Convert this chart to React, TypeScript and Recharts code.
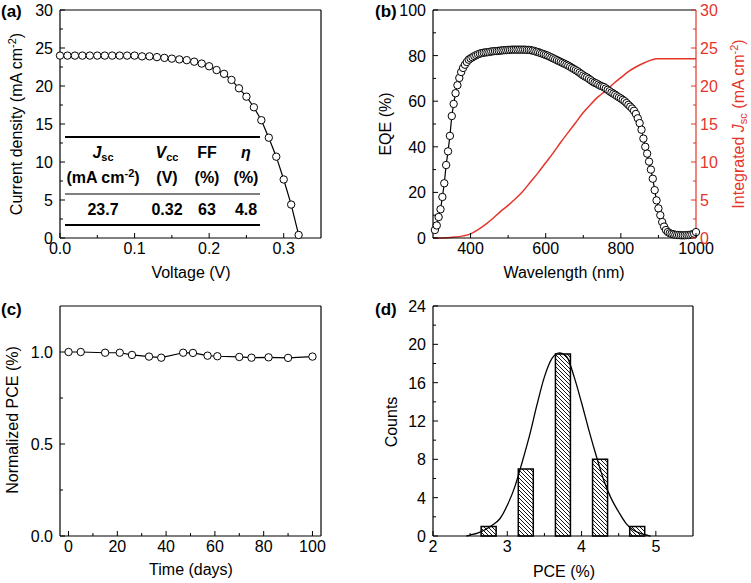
import React from 'react'
import { ComposedChart, Line, Bar, XAxis, YAxis, ReferenceLine } from 'recharts'

const FONT = '"Liberation Sans", Arial, Helvetica, sans-serif'
const RED = '#e5352b'

// (a) J-V curve
const voltage = [
  0, 0.01, 0.02, 0.03, 0.04, 0.05, 0.06, 0.07, 0.08, 0.09, 0.1, 0.11, 0.12, 0.13, 0.14, 0.15, 0.16,
  0.17, 0.18, 0.19, 0.2, 0.21, 0.22, 0.23, 0.24, 0.25, 0.26, 0.27, 0.28, 0.29, 0.3, 0.31, 0.32,
]
const currentDensity = [
  24.0, 24.0, 24.0, 24.0, 24.0, 24.0, 24.0, 24.0, 24.0, 24.0, 24.0, 23.9, 23.9, 23.8, 23.7, 23.6, 23.5,
  23.4, 23.2, 22.95, 22.6, 22.1, 21.6, 20.8, 19.7, 18.6, 17.2, 15.5, 13.2, 10.7, 7.7, 4.4, 0.4,
]
const tableHead = ['J', 'V', 'FF', 'η']
const tableValues = ['23.7', '0.32', '63', '4.8']

// (b) EQE + integrated Jsc
const wavelength = [
  305, 310, 315, 320, 325, 330, 335, 340, 345, 350,
  355, 360, 365, 370, 375, 380, 385, 390, 395, 400,
  405, 410, 415, 420, 425, 430, 435, 440, 445, 450,
  455, 460, 465, 470, 475, 480, 485, 490, 495, 500,
  505, 510, 515, 520, 525, 530, 535, 540, 545, 550,
  555, 560, 565, 570, 575, 580, 585, 590, 595, 600,
  605, 610, 615, 620, 625, 630, 635, 640, 645, 650,
  655, 660, 665, 670, 675, 680, 685, 690, 695, 700,
  705, 710, 715, 720, 725, 730, 735, 740, 745, 750,
  755, 760, 765, 770, 775, 780, 785, 790, 795, 800,
  805, 810, 815, 820, 825, 830, 835, 840, 845, 850,
  855, 860, 865, 870, 875, 880, 885, 890, 895, 900,
  905, 910, 915, 920, 925, 930, 935, 940, 945, 950,
  955, 960, 965, 970, 975, 980, 985, 990, 995, 1000,
]
const eqe = [
  3.5, 5.5, 9.2, 12.6, 18, 24, 32, 38, 44.8, 53.5,
  58.8, 63.5, 67, 70.2, 72.8, 74.6, 76, 77.2, 78.2, 78.8,
  79.3, 79.8, 80.2, 80.6, 80.9, 81.1, 81.3, 81.4, 81.5, 81.6,
  81.8, 81.9, 82.0, 82.0, 82.1, 82.2, 82.3, 82.4, 82.4, 82.5,
  82.5, 82.6, 82.6, 82.6, 82.6, 82.6, 82.6, 82.6, 82.6, 82.5,
  82.5, 82.4, 82.2, 82.0, 81.7, 81.5, 81.2, 80.9, 80.6, 80.3,
  80.0, 79.6, 79.2, 78.8, 78.4, 78.0, 77.6, 77.2, 76.8, 76.4,
  76.0, 75.6, 75.1, 74.6, 74.1, 73.6, 73.1, 72.5, 71.9, 71.3,
  70.8, 70.4, 69.8, 69.2, 68.6, 68.1, 67.8, 67.3, 66.8, 66.5,
  66.2, 65.6, 65.0, 64.4, 63.8, 63.3, 62.8, 62.2, 61.7, 61.2,
  60.6, 60.0, 59.2, 58.4, 57.6, 56.8, 55.8, 54.4, 52.5, 50.4,
  47.5, 43.6, 40.0, 37.0, 33.5, 30.0, 26.0, 21.0, 16.5, 13.0,
  10.0, 7.0, 5.0, 3.5, 2.6, 2.1, 1.8, 1.6, 1.4, 1.3,
  1.3, 1.2, 1.2, 1.2, 1.3, 1.3, 1.4, 1.6, 1.9, 2.6,
]
const jscWavelength = [
  300, 320, 340, 360, 380, 400, 420, 440, 460, 480, 500, 520, 540, 560, 580, 600,
  620, 640, 660, 680, 700, 720, 740, 760, 780, 800, 820, 840, 860, 880, 895, 1000,
]
const integratedJsc = [
  0, 0.01, 0.04, 0.12, 0.28, 0.55, 1.1, 1.8, 2.6, 3.5, 4.3, 5.2, 6.2, 7.4, 8.6, 9.9,
  11.2, 12.6, 13.9, 15.2, 16.5, 17.6, 18.6, 19.4, 20.3, 21.1, 21.9, 22.5, 23.0, 23.4, 23.6, 23.6,
]

// (c) stability
const days = [0, 5, 15, 21, 26, 33, 38, 47, 51, 57, 61, 70, 75, 82, 90, 100]
const normalizedPce = [
  1.0, 1.0, 0.996, 0.996, 0.984, 0.975, 0.969, 0.996, 0.995, 0.98, 0.977, 0.973, 0.969, 0.971, 0.968, 0.975,
]

// (d) histogram + gaussian fit
const pceBins = [2.75, 3.25, 3.75, 4.25, 4.75]
const counts = [1, 7, 19, 8, 1]
const fitPce = [
  2.45, 2.5, 2.6, 2.7, 2.8, 2.9, 3.0, 3.1, 3.2, 3.3, 3.4, 3.5, 3.6, 3.7, 3.8, 3.9, 4.0, 4.1, 4.2, 4.3,
  4.4, 4.5, 4.6, 4.7, 4.8, 4.9, 4.93,
]
const fitCounts = [
  0, 0.1, 0.3, 0.65, 1.15, 1.8, 3.2, 5.1, 7.7, 10.5, 13.7, 16.6, 18.5, 19.1, 18.7, 16.6, 13.9, 11.0, 8.3, 5.8,
  3.9, 2.5, 1.3, 0.6, 0.25, 0.05, 0,
]

const jvData = voltage.map((v, i) => ({ v, j: currentDensity[i] }))
const eqeData = wavelength.map((wl, i) => ({ wl, eqe: eqe[i] }))
const jscData = jscWavelength.map((wl, i) => ({ wl, jsc: integratedJsc[i] }))
const stabData = days.map((d, i) => ({ d, pce: normalizedPce[i] }))
const histData = pceBins.map((pce, i) => ({ pce, count: counts[i] }))
const fitData = fitPce.map((pce, i) => ({ pce, fit: fitCounts[i] }))

type Side = 'left' | 'right' | 'bottom'

// ticks point inward, minor ones shorter, labels only on majors
function axisTick(side: Side, majors: number[], fmt: (v: number) => string, color = '#000') {
  return (props: any) => {
    const { x, y, payload } = props
    const v = payload.value as number
    const isMajor = majors.some((m) => Math.abs(m - v) < 1e-6)
    const len = isMajor ? 5 : 3
    const label = isMajor ? fmt(v) : ''
    const txt = { fontSize: 16, fill: color, fontFamily: FONT }
    if (side === 'bottom') {
      return (
        <g>
          <line x1={x} y1={y} x2={x} y2={y - len} stroke={color} />
          {label && <text x={x} y={y + 16} textAnchor="middle" {...txt}>{label}</text>}
        </g>
      )
    }
    if (side === 'left') {
      return (
        <g>
          <line x1={x} y1={y} x2={x + len} y2={y} stroke={color} />
          {label && <text x={x - 7} y={y + 6} textAnchor="end" {...txt}>{label}</text>}
        </g>
      )
    }
    return (
      <g>
        <line x1={x} y1={y} x2={x - len} y2={y} stroke={color} />
        {label && <text x={x + 4} y={y + 6} textAnchor="start" {...txt}>{label}</text>}
      </g>
    )
  }
}

const axisCommon = {
  tickSize: 0,
  tickMargin: 0,
  tickLine: false,
  interval: 0 as const,
}
const dotStyle = { r: 3.7, fill: '#fff', stroke: '#000', strokeWidth: 1 }
const blackAxis = { stroke: '#000', strokeWidth: 1.2 }

export default function App() {
  return (
    <div style={{ position: 'absolute', left: 0, top: 0, width: 751, height: 583, background: '#fff', fontFamily: FONT }}>
      {/* (a) */}
      <div style={{ position: 'absolute', left: 0, top: 0 }}>
        <ComposedChart width={375} height={290} data={jvData} margin={{ top: 10, right: 54, bottom: 22, left: 20 }}>
          <XAxis
            dataKey="v"
            type="number"
            domain={[0, 0.35]}
            ticks={[0, 0.05, 0.1, 0.15, 0.2, 0.25, 0.3]}
            height={30}
            axisLine={blackAxis}
            tick={axisTick('bottom', [0, 0.1, 0.2, 0.3], (v) => v.toFixed(1))}
            {...axisCommon}
          />
          <YAxis
            type="number"
            domain={[0, 30]}
            ticks={[0, 2.5, 5, 7.5, 10, 12.5, 15, 17.5, 20, 22.5, 25, 27.5, 30]}
            width={40}
            axisLine={blackAxis}
            tick={axisTick('left', [0, 5, 10, 15, 20, 25, 30], (v) => String(v))}
            {...axisCommon}
          />
          <ReferenceLine y={30} stroke="#000" strokeWidth={1.2} />
          <ReferenceLine x={0.35} stroke="#000" strokeWidth={1.2} />
          <Line dataKey="j" type="linear" stroke="#000" strokeWidth={1.2} dot={dotStyle} isAnimationActive={false} />
        </ComposedChart>
      </div>

      {/* (b) */}
      <div style={{ position: 'absolute', left: 375, top: 0 }}>
        <ComposedChart width={376} height={290} margin={{ top: 10, right: 15, bottom: 22, left: 18 }}>
          <XAxis
            dataKey="wl"
            type="number"
            domain={[300, 1000]}
            ticks={[400, 500, 600, 700, 800, 900, 1000]}
            height={30}
            axisLine={blackAxis}
            tick={axisTick('bottom', [400, 600, 800, 1000], (v) => String(v))}
            {...axisCommon}
          />
          <YAxis
            yAxisId="eqe"
            type="number"
            domain={[0, 100]}
            ticks={[0, 10, 20, 30, 40, 50, 60, 70, 80, 90, 100]}
            width={40}
            axisLine={blackAxis}
            tick={axisTick('left', [0, 20, 40, 60, 80, 100], (v) => String(v))}
            {...axisCommon}
          />
          <YAxis
            yAxisId="jsc"
            orientation="right"
            type="number"
            domain={[0, 30]}
            ticks={[0, 2.5, 5, 7.5, 10, 12.5, 15, 17.5, 20, 22.5, 25, 27.5, 30]}
            width={40}
            axisLine={{ stroke: RED, strokeWidth: 1.2 }}
            tick={axisTick('right', [0, 5, 10, 15, 20, 25, 30], (v) => String(v), RED)}
            {...axisCommon}
          />
          <ReferenceLine yAxisId="eqe" y={100} stroke="#000" strokeWidth={1.2} />
          <Line
            data={jscData}
            yAxisId="jsc"
            dataKey="jsc"
            type="monotone"
            stroke={RED}
            strokeWidth={1.5}
            dot={false}
            isAnimationActive={false}
          />
          <Line
            data={eqeData}
            yAxisId="eqe"
            dataKey="eqe"
            type="linear"
            stroke="#000"
            strokeWidth={1.2}
            dot={dotStyle}
            isAnimationActive={false}
          />
        </ComposedChart>
      </div>

      {/* (c) */}
      <div style={{ position: 'absolute', left: 0, top: 290 }}>
        <ComposedChart width={375} height={293} data={stabData} margin={{ top: 16, right: 54, bottom: 17, left: 20 }}>
          <XAxis
            dataKey="d"
            type="number"
            domain={[-3.5, 103.5]}
            ticks={[0, 10, 20, 30, 40, 50, 60, 70, 80, 90, 100]}
            height={30}
            axisLine={blackAxis}
            tick={axisTick('bottom', [0, 20, 40, 60, 80, 100], (v) => String(v))}
            {...axisCommon}
          />
          <YAxis
            type="number"
            domain={[0, 1.25]}
            ticks={[0, 0.25, 0.5, 0.75, 1.0]}
            width={40}
            axisLine={blackAxis}
            tick={axisTick('left', [0, 0.5, 1.0], (v) => v.toFixed(1))}
            {...axisCommon}
          />
          <ReferenceLine y={1.25} stroke="#000" strokeWidth={1.2} />
          <ReferenceLine x={103.5} stroke="#000" strokeWidth={1.2} />
          <Line dataKey="pce" type="linear" stroke="#000" strokeWidth={1.2} dot={dotStyle} isAnimationActive={false} />
        </ComposedChart>
      </div>

      {/* (d) */}
      <div style={{ position: 'absolute', left: 375, top: 290 }}>
        <ComposedChart width={376} height={293} data={histData} margin={{ top: 16, right: 58, bottom: 17, left: 18 }}>
          <defs>
            <pattern id="hatch" patternUnits="userSpaceOnUse" width="4" height="4">
              <rect width="4" height="4" fill="#fff" />
              <path d="M-1,-1 L5,5 M-1,3 L1,5 M3,-1 L5,1" stroke="#000" strokeWidth="0.9" />
            </pattern>
          </defs>
          <XAxis xAxisId="fit" dataKey="pce" type="number" domain={[2, 5.5]} height={0} hide />
          <XAxis
            xAxisId="hist"
            dataKey="pce"
            type="number"
            domain={[2, 5.5]}
            ticks={[2, 2.5, 3, 3.5, 4, 4.5, 5]}
            height={30}
            axisLine={blackAxis}
            tick={axisTick('bottom', [2, 3, 4, 5], (v) => String(v))}
            {...axisCommon}
          />
          <YAxis
            type="number"
            domain={[0, 24]}
            ticks={[0, 2, 4, 6, 8, 10, 12, 14, 16, 18, 20, 22, 24]}
            width={40}
            axisLine={blackAxis}
            tick={axisTick('left', [0, 4, 8, 12, 16, 20, 24], (v) => String(v))}
            {...axisCommon}
          />
          <ReferenceLine xAxisId="hist" y={24} stroke="#000" strokeWidth={1.2} />
          <ReferenceLine xAxisId="hist" x={5.5} stroke="#000" strokeWidth={1.2} />
          <Bar
            xAxisId="hist"
            dataKey="count"
            barSize={15}
            fill="url(#hatch)"
            stroke="#000"
            strokeWidth={1.5}
            isAnimationActive={false}
          />
          <Line
            xAxisId="fit"
            data={fitData}
            dataKey="fit"
            type="monotone"
            stroke="#000"
            strokeWidth={1.3}
            dot={false}
            isAnimationActive={false}
          />
        </ComposedChart>
      </div>

      {/* panel labels, axis titles and the parameter table */}
      <svg
        width={751}
        height={583}
        style={{ position: 'absolute', left: 0, top: 0, pointerEvents: 'none' }}
        fontFamily={FONT}
      >
        <g fontSize={17} fontWeight="bold">
          <text x={1} y={17}>(a)</text>
          <text x={375} y={17}>(b)</text>
          <text x={1} y={315}>(c)</text>
          <text x={375} y={315}>(d)</text>
        </g>

        <g fontSize={16} textAnchor="middle">
          <text x={191} y={278}>Voltage (V)</text>
          <text transform="translate(22,124) rotate(-90)">
            Current density (mA cm
            <tspan fontSize={11} dy={-6}>-2</tspan>
            <tspan dy={6}>)</tspan>
          </text>
          <text x={564} y={278}>Wavelength (nm)</text>
          <text transform="translate(391,124) rotate(-90)">EQE (%)</text>
          <text transform="translate(744,124) rotate(-90)" fill={RED}>
            Integrated <tspan fontStyle="italic">J</tspan>
            <tspan fontSize={11} dy={3}>sc</tspan>
            <tspan dy={-3}> (mA cm</tspan>
            <tspan fontSize={11} dy={-6}>-2</tspan>
            <tspan dy={6}>)</tspan>
          </text>
          <text x={191} y={575}>Time (days)</text>
          <text transform="translate(18,420) rotate(-90)">Normalized PCE (%)</text>
          <text x={564} y={577}>PCE (%)</text>
          <text transform="translate(397,422) rotate(-90)">Counts</text>
        </g>

        <g stroke="#000">
          <line x1={65} x2={260} y1={137} y2={137} strokeWidth={1.8} />
          <line x1={65} x2={260} y1={194} y2={194} strokeWidth={1} />
          <line x1={65} x2={260} y1={225} y2={225} strokeWidth={1.8} />
        </g>
        <g fontSize={16} fontWeight="bold" textAnchor="middle">
          <text x={103} y={158}>
            <tspan fontStyle="italic">{tableHead[0]}</tspan>
            <tspan fontSize={11} dy={3}>sc</tspan>
          </text>
          <text x={167} y={158}>
            <tspan fontStyle="italic">{tableHead[1]}</tspan>
            <tspan fontSize={11} dy={3}>cc</tspan>
          </text>
          <text x={207} y={158}>{tableHead[2]}</text>
          <text x={246} y={158} fontStyle="italic">{tableHead[3]}</text>
          <text x={103} y={183}>
            (mA cm
            <tspan fontSize={11} dy={-6}>-2</tspan>
            <tspan dy={6}>)</tspan>
          </text>
          <text x={167} y={183}>(V)</text>
          <text x={207} y={183}>(%)</text>
          <text x={246} y={183}>(%)</text>
          <text x={103} y={215}>{tableValues[0]}</text>
          <text x={167} y={215}>{tableValues[1]}</text>
          <text x={207} y={215}>{tableValues[2]}</text>
          <text x={246} y={215}>{tableValues[3]}</text>
        </g>
      </svg>
    </div>
  )
}
